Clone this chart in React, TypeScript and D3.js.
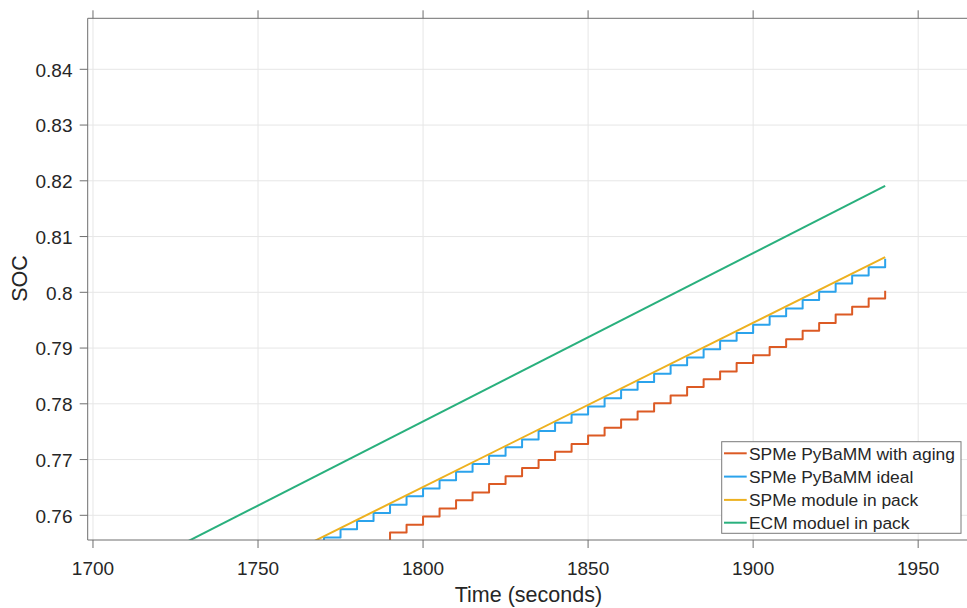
import React from "react";
import * as d3 from "d3";

const xTicks = [1700, 1750, 1800, 1850, 1900, 1950];
const yTicks = [0.76, 0.77, 0.78, 0.79, 0.8, 0.81, 0.82, 0.83, 0.84];
const yTickLabels = ["0.76", "0.77", "0.78", "0.79", "0.8", "0.81", "0.82", "0.83", "0.84"];

const agingTimes = [1785, 1790, 1795, 1800, 1805, 1810, 1815, 1820, 1825, 1830, 1835, 1840, 1845, 1850, 1855, 1860, 1865, 1870, 1875, 1880, 1885, 1890, 1895, 1900, 1905, 1910, 1915, 1920, 1925, 1930, 1935, 1940];
const agingSoc = [0.7554, 0.7569, 0.7583, 0.7598, 0.7612, 0.7627, 0.7641, 0.7656, 0.767, 0.7685, 0.7699, 0.7714, 0.7728, 0.7743, 0.7757, 0.7772, 0.7786, 0.7801, 0.7815, 0.783, 0.7844, 0.7858, 0.7873, 0.7887, 0.7902, 0.7916, 0.7931, 0.7945, 0.796, 0.7974, 0.7989, 0.8003];

const idealTimes = [1765, 1770, 1775, 1780, 1785, 1790, 1795, 1800, 1805, 1810, 1815, 1820, 1825, 1830, 1835, 1840, 1845, 1850, 1855, 1860, 1865, 1870, 1875, 1880, 1885, 1890, 1895, 1900, 1905, 1910, 1915, 1920, 1925, 1930, 1935, 1940];
const idealSoc = [0.7546, 0.756, 0.7575, 0.759, 0.7604, 0.7619, 0.7634, 0.7648, 0.7663, 0.7678, 0.7692, 0.7707, 0.7722, 0.7736, 0.7751, 0.7766, 0.7781, 0.7795, 0.781, 0.7825, 0.7839, 0.7854, 0.7869, 0.7883, 0.7898, 0.7913, 0.7927, 0.7942, 0.7957, 0.7971, 0.7986, 0.8001, 0.8016, 0.803, 0.8045, 0.806];

const moduleTimes = [1760, 1940];
const moduleSoc = [0.7533, 0.8063];

const ecmTimes = [1720, 1940];
const ecmSoc = [0.7527, 0.8191];

const seriesNames = ["SPMe PyBaMM with aging", "SPMe PyBaMM ideal", "SPMe module in pack", "ECM moduel in pack"];
const seriesColors = ["#DC5A24", "#2BA3EC", "#EDB120", "#29B07D"];

const W = 967;
const H = 608;
const left = 87.7;
const right = 969;
const top = 18.3;
const bottom = 540;

export default function App() {
  const x = d3.scaleLinear().domain([1698.4, 1965.4]).range([left, right]);
  const y = d3.scaleLinear().domain([0.75557, 0.84915]).range([bottom, top]);

  const stepLine = d3
    .line<[number, number]>()
    .x((d) => x(d[0]))
    .y((d) => y(d[1]))
    .curve(d3.curveStepAfter);
  const straight = d3
    .line<[number, number]>()
    .x((d) => x(d[0]))
    .y((d) => y(d[1]));

  const zip = (a: number[], b: number[]) => a.map((t, i) => [t, b[i]] as [number, number]);

  const paths = [
    stepLine(zip(agingTimes, agingSoc)),
    stepLine(zip(idealTimes, idealSoc)),
    straight(zip(moduleTimes, moduleSoc)),
    straight(zip(ecmTimes, ecmSoc)),
  ];

  const font = "'Liberation Sans', Arial, Helvetica, sans-serif";
  const axisColor = "#6e6e6e";
  const gridColor = "#e6e6e6";
  const textColor = "#262626";

  const legX = 721.7;
  const legY = 441.7;
  const legW = 239.3;
  const legH = 91.6;
  const rowY = [453.3, 476.6, 499.9, 522.7];

  return (
    <svg
      width={W}
      height={H}
      style={{ position: "absolute", left: 0, top: 0, background: "#fff" }}
      fontFamily={font}
    >
      <defs>
        <clipPath id="plotClip">
          <rect x={left} y={top} width={right - left} height={bottom - top} />
        </clipPath>
      </defs>
      <rect x={0} y={0} width={W} height={H} fill="#fff" />
      {/* grid */}
      {xTicks.map((t) => (
        <line key={"gx" + t} x1={x(t)} x2={x(t)} y1={top} y2={bottom} stroke={gridColor} strokeWidth={1} />
      ))}
      {yTicks.map((t) => (
        <line key={"gy" + t} x1={left} x2={right} y1={y(t)} y2={y(t)} stroke={gridColor} strokeWidth={1} />
      ))}
      {/* series */}
      <g clipPath="url(#plotClip)" fill="none" strokeLinejoin="round">
        {paths.map((p, i) => (
          <path key={i} d={p || ""} stroke={seriesColors[i]} strokeWidth={2} />
        ))}
      </g>
      {/* axes */}
      <line x1={left} x2={right} y1={bottom} y2={bottom} stroke={axisColor} strokeWidth={1} />
      <line x1={left} x2={right} y1={top} y2={top} stroke={axisColor} strokeWidth={1} />
      <line x1={left} x2={left} y1={top} y2={bottom} stroke={axisColor} strokeWidth={1} />
      {xTicks.map((t) => (
        <g key={"tx" + t}>
          <line x1={x(t)} x2={x(t)} y1={bottom} y2={bottom + 8} stroke={axisColor} strokeWidth={1} />
          <line x1={x(t)} x2={x(t)} y1={top - 8} y2={top} stroke={axisColor} strokeWidth={1} />
          <text x={x(t)} y={575.3} textAnchor="middle" fontSize={19} fill={textColor}>
            {t}
          </text>
        </g>
      ))}
      {yTicks.map((t, i) => (
        <g key={"ty" + t}>
          <line x1={left - 8} x2={left} y1={y(t)} y2={y(t)} stroke={axisColor} strokeWidth={1} />
          <text x={72.5} y={y(t) + 7.3} textAnchor="end" fontSize={19} fill={textColor}>
            {yTickLabels[i]}
          </text>
        </g>
      ))}
      <text x={528.4} y={602} textAnchor="middle" fontSize={21.5} fill={textColor}>
        Time (seconds)
      </text>
      <text
        transform={`translate(26.7, ${278.5}) rotate(-90)`}
        textAnchor="middle"
        fontSize={21.5}
        fill={textColor}
      >
        SOC
      </text>
      {/* legend */}
      <rect x={legX} y={legY} width={legW} height={legH} fill="#fff" stroke="#7a7a7a" strokeWidth={1} />
      {seriesNames.map((n, i) => (
        <g key={n}>
          <line x1={724} x2={746.7} y1={rowY[i]} y2={rowY[i]} stroke={seriesColors[i]} strokeWidth={2} />
          <text x={749} y={rowY[i] + 6.4} fontSize={17.4} fill={textColor}>
            {n}
          </text>
        </g>
      ))}
    </svg>
  );
}
